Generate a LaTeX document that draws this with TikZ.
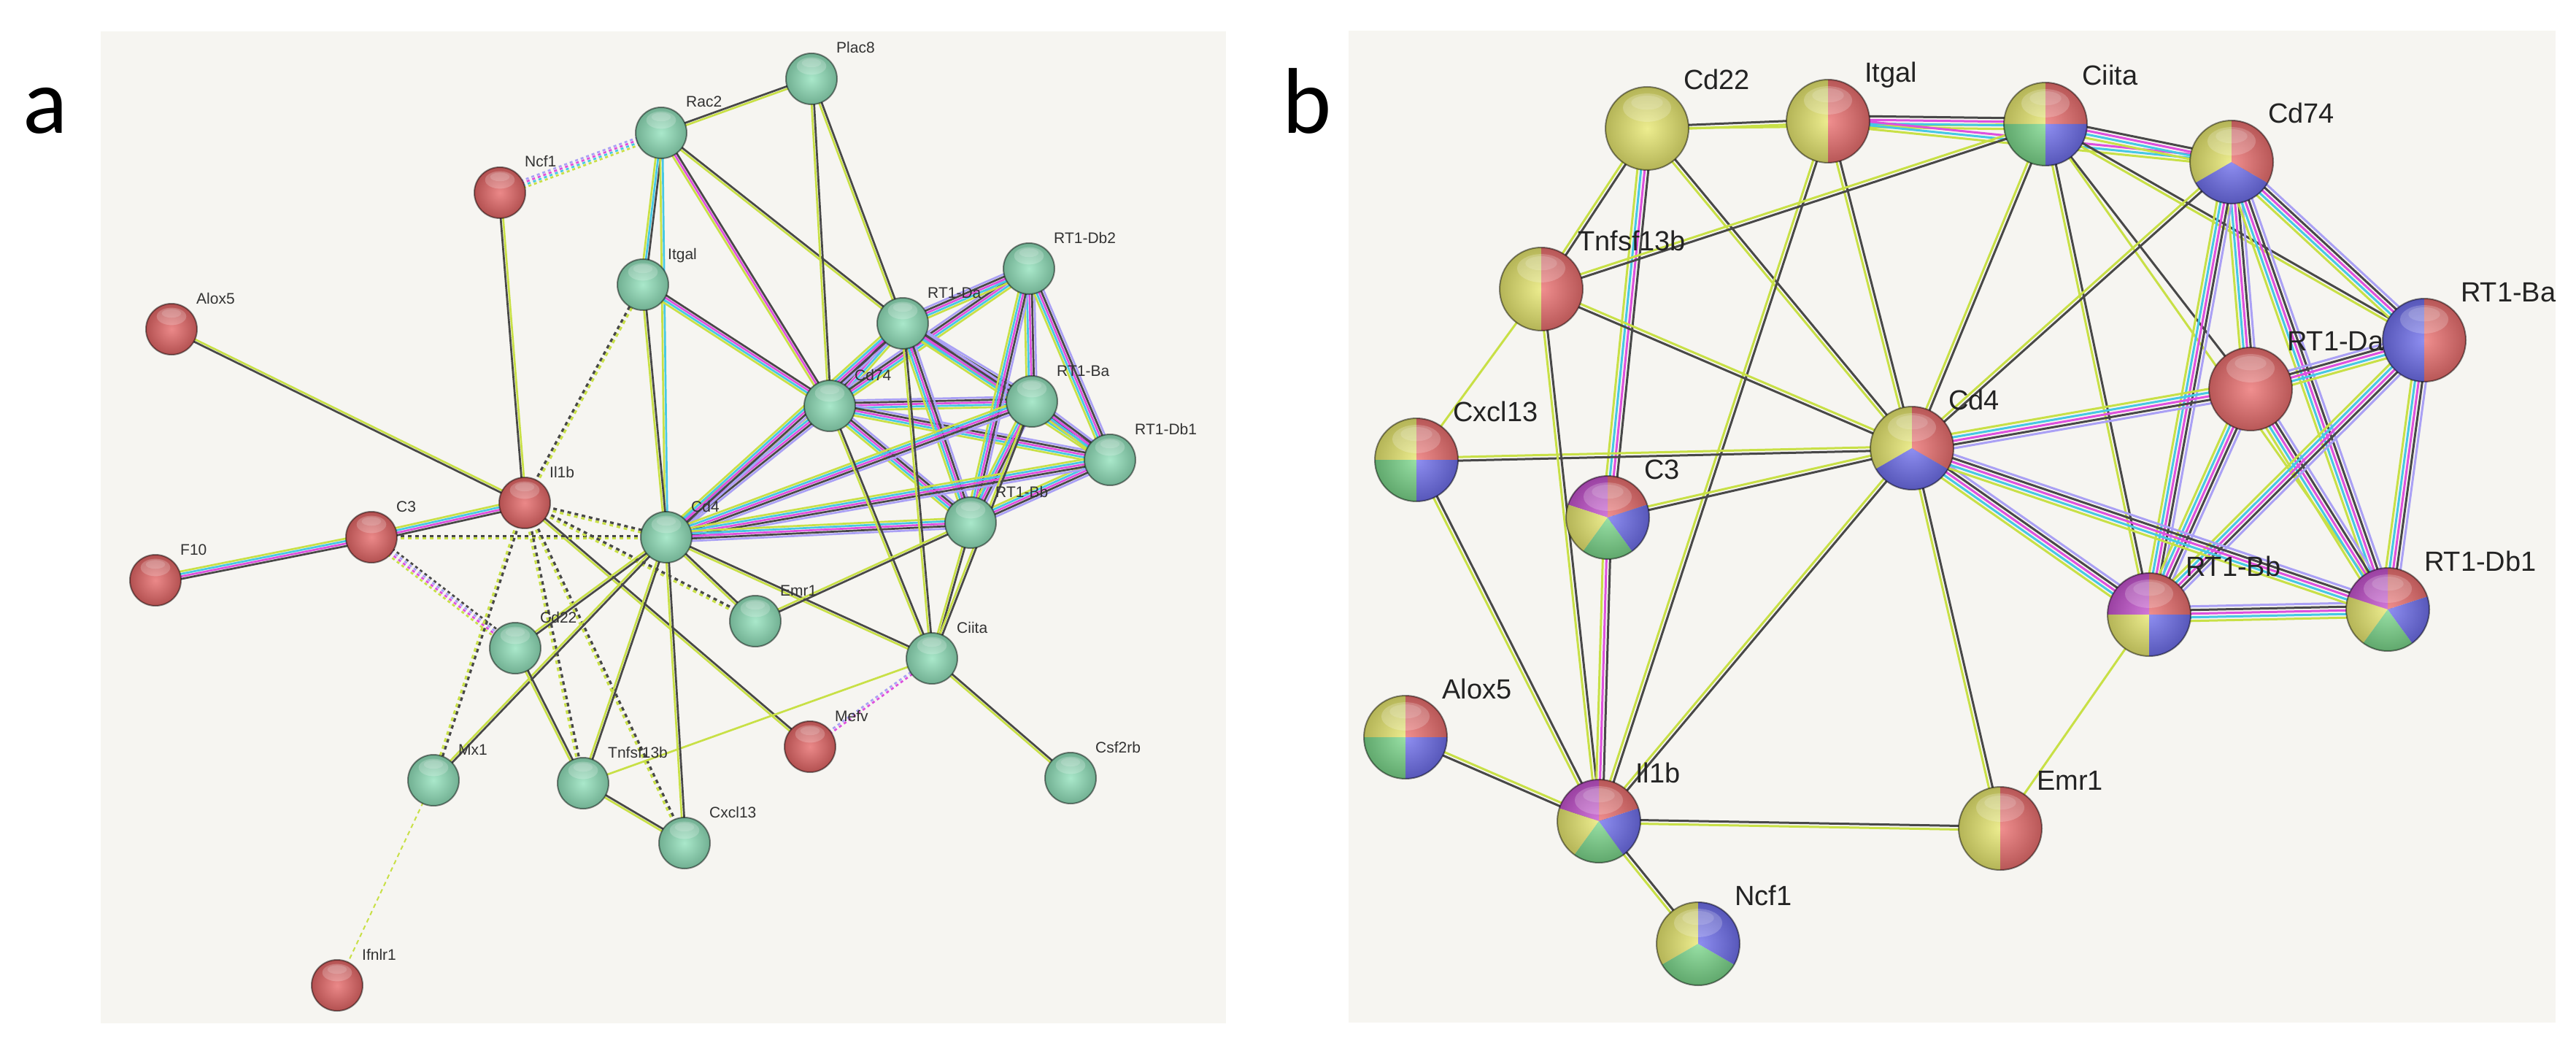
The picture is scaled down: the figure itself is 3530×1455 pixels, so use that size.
\documentclass[tikz,border=0pt]{standalone}
\usepackage{fontspec}
\setmainfont{Liberation Sans}
\newfontfamily\pfont{Carlito}
\usetikzlibrary{calc}
\definecolor{bgp}{RGB}{246,245,241}
\definecolor{ytm}{RGB}{200,224,70}
\definecolor{blk}{RGB}{72,72,72}
\definecolor{mag}{RGB}{222,80,222}
\definecolor{cyn}{RGB}{70,200,228}
\definecolor{lav}{RGB}{170,160,245}
\definecolor{bgreen}{RGB}{146,226,188}
\definecolor{bred}{RGB}{230,104,104}
\definecolor{pyel}{RGB}{232,232,112}
\definecolor{pred}{RGB}{236,112,112}
\definecolor{pgrn}{RGB}{124,216,140}
\definecolor{pblu}{RGB}{112,112,238}
\definecolor{pmag}{RGB}{198,84,208}
\definecolor{lbl}{RGB}{50,50,50}
\def\YK{ytm,blk}
\def\YCMK{ytm,cyn,mag,blk}
\def\FULL{ytm,cyn,mag,blk,lav}
\def\espc{3.4}
\def\ewid{2.7}
\newcommand\edg[4][]{%
  \edef\elist{#4}%
  \foreach \ecol [count=\i] in \elist {\xdef\ecount{\i}}%
  \foreach \ecol [count=\i] in \elist {%
    \pgfmathsetmacro\eoff{(\i-(\ecount+1)/2)*\espc}%
    \draw[color=\ecol, line width=\ewid, #1] ($(#2)!\eoff pt!90:(#3)$) -- ($(#3)!\eoff pt!-90:(#2)$);
  }%
}
\newcommand\gloss[2]{%
  \shade[inner color=white, outer color=black, opacity=0.22] (#1) circle (#2);
  \fill[white, opacity=0.2] ($(#1)+(0,0.5*#2)$) ellipse ({0.58*#2} and {0.34*#2});
  \fill[white, opacity=0.15] ($(#1)+(0,0.62*#2)$) ellipse ({0.38*#2} and {0.17*#2});
  \draw[black, opacity=0.45, line width=2] (#1) circle (#2);
}
\newcommand\aball[2]{\fill[#2] (a-#1) circle (35); \gloss{a-#1}{35}}
\newcommand\alab[2]{\node[lblA] (la-#1) at ($(a-#1)+(34,35)$) {#2};}
\newcommand\pball[2]{%
  \foreach \s/\e/\cc in {#2} {\fill[color=\cc] (b-#1) -- ++(\s:57) arc[start angle=\s, end angle=\e, radius=57] -- cycle;}%
  \gloss{b-#1}{57}}
\newcommand\blab[2]{\node[lblB] (lb-#1) at ($(b-#1)+(50,53)$) {#2};}
\tikzset{
  lblA/.style={anchor=base west, inner sep=0pt, text=lbl, font=\fontsize{21}{24}\selectfont},
  lblB/.style={anchor=base west, inner sep=0pt, text=lbl!70!black, font=\fontsize{38}{42}\selectfont},
  panel/.style={anchor=base, inner sep=0pt, font=\pfont\fontsize{128}{140}\selectfont},
  dashA/.style={dash pattern=on 4pt off 4pt},
  dashB/.style={dash pattern=on 5pt off 5pt, line width=3.2},
  dashC/.style={dash pattern=on 6pt off 5pt, line width=2},
}
\begin{document}
\begin{tikzpicture}[x=1pt,y=1pt]
\useasboundingbox (0,0) rectangle (3530,-1455);
\fill[white] (0,0) rectangle (3530,-1455);
\fill[bgp] (138,-43) rectangle (1680,-1402);
\fill[bgp] (1848,-42) rectangle (3502,-1401);
\node[panel] (pa) at (62,-183) {a};
\node[panel] (pb) at (1791,-183) {b};

% ---------- panel a coordinates
\coordinate (a-Plac8) at (1112,-108);
\coordinate (a-Rac2) at (906,-182);
\coordinate (a-Ncf1) at (685,-264);
\coordinate (a-Itgal) at (881,-390);
\coordinate (a-RT1-Db2) at (1410,-368);
\coordinate (a-RT1-Da) at (1237,-443);
\coordinate (a-Alox5) at (235,-451);
\coordinate (a-Cd74) at (1137,-556);
\coordinate (a-RT1-Ba) at (1414,-550);
\coordinate (a-RT1-Db1) at (1521,-630);
\coordinate (a-Il1b) at (719,-689);
\coordinate (a-C3) at (509,-736);
\coordinate (a-Cd4) at (913,-736);
\coordinate (a-RT1-Bb) at (1330,-716);
\coordinate (a-F10) at (213,-795);
\coordinate (a-Emr1) at (1035,-851);
\coordinate (a-Cd22) at (706,-888);
\coordinate (a-Ciita) at (1277,-902);
\coordinate (a-Mefv) at (1110,-1023);
\coordinate (a-Mx1) at (594,-1069);
\coordinate (a-Tnfsf13b) at (799,-1073);
\coordinate (a-Csf2rb) at (1467,-1066);
\coordinate (a-Cxcl13) at (938,-1155);
\coordinate (a-Ifnlr1) at (462,-1350);

% ---------- panel a edges
\edg{a-Il1b}{a-Alox5}{\YK}
\edg{a-Il1b}{a-Ncf1}{\YK}
\edg{a-Il1b}{a-C3}{\YCMK}
\edg{a-C3}{a-F10}{\YCMK}
\edg{a-Il1b}{a-Mefv}{\YK}
\edg[dashA]{a-Ncf1}{a-Rac2}{ytm,cyn,mag,lav}
\edg[dashA]{a-C3}{a-Cd22}{ytm,mag,lav,blk}
\edg[dashA]{a-Mefv}{a-Ciita}{mag,lav}
\edg[dashB]{a-Il1b}{a-Itgal}{\YK}
\edg[dashB]{a-Il1b}{a-Cd4}{\YK}
\edg[dashB]{a-C3}{a-Cd4}{\YK}
\edg[dashB]{a-Il1b}{a-Emr1}{\YK}
\edg[dashB]{a-Il1b}{a-Tnfsf13b}{\YK}
\edg[dashB]{a-Il1b}{a-Cxcl13}{\YK}
\edg[dashB]{a-Il1b}{a-Mx1}{\YK}
\edg[dashC]{a-Mx1}{a-Ifnlr1}{ytm}
\edg{a-Rac2}{a-Plac8}{\YK}
\edg{a-Rac2}{a-Itgal}{ytm,cyn,blk}
\edg{a-Rac2}{a-Cd4}{ytm,cyn}
\edg{a-Itgal}{a-Cd4}{\YK}
\edg{a-Rac2}{a-Cd74}{ytm,mag,blk}
\edg{a-Rac2}{a-RT1-Da}{\YK}
\edg{a-Plac8}{a-Cd74}{\YK}
\edg{a-Plac8}{a-RT1-Da}{\YK}
\edg{a-Itgal}{a-Cd74}{\YCMK}
\edg{a-Cd74}{a-RT1-Da}{\FULL}
\edg{a-Cd74}{a-RT1-Db2}{\FULL}
\edg{a-Cd74}{a-RT1-Ba}{\FULL}
\edg{a-Cd74}{a-RT1-Db1}{\FULL}
\edg{a-Cd74}{a-RT1-Bb}{\FULL}
\edg{a-Cd74}{a-Cd4}{\FULL}
\edg{a-RT1-Da}{a-RT1-Db2}{\FULL}
\edg{a-RT1-Da}{a-RT1-Ba}{\FULL}
\edg{a-RT1-Da}{a-RT1-Db1}{\FULL}
\edg{a-RT1-Da}{a-RT1-Bb}{\FULL}
\edg{a-RT1-Da}{a-Cd4}{\FULL}
\edg{a-RT1-Db2}{a-RT1-Ba}{\FULL}
\edg{a-RT1-Db2}{a-RT1-Db1}{\FULL}
\edg{a-RT1-Db2}{a-RT1-Bb}{\FULL}
\edg{a-RT1-Ba}{a-RT1-Db1}{\FULL}
\edg{a-RT1-Ba}{a-RT1-Bb}{\FULL}
\edg{a-RT1-Ba}{a-Cd4}{\FULL}
\edg{a-RT1-Db1}{a-RT1-Bb}{\FULL}
\edg{a-RT1-Db1}{a-Cd4}{\FULL}
\edg{a-RT1-Bb}{a-Cd4}{\FULL}
\edg{a-Cd74}{a-Ciita}{\YK}
\edg{a-RT1-Da}{a-Ciita}{\YK}
\edg{a-RT1-Bb}{a-Ciita}{\YK}
\edg{a-RT1-Ba}{a-Ciita}{\YK}
\edg{a-Cd4}{a-Ciita}{\YK}
\edg{a-Tnfsf13b}{a-Ciita}{ytm}
\edg{a-Ciita}{a-Csf2rb}{\YK}
\edg{a-RT1-Bb}{a-Emr1}{\YK}
\edg{a-Cd4}{a-Emr1}{\YK}
\edg{a-Cd4}{a-Cd22}{\YK}
\edg{a-Cd4}{a-Mx1}{\YK}
\edg{a-Cd4}{a-Tnfsf13b}{\YK}
\edg{a-Cd4}{a-Cxcl13}{\YK}
\edg{a-Cd22}{a-Tnfsf13b}{\YK}
\edg{a-Tnfsf13b}{a-Cxcl13}{\YK}

% ---------- panel a balls and labels
\foreach \n in {Plac8,Rac2,Itgal,RT1-Db2,RT1-Da,Cd74,RT1-Ba,RT1-Db1,Cd4,RT1-Bb,Emr1,Cd22,Ciita,Mx1,Tnfsf13b,Csf2rb,Cxcl13}{\aball{\n}{bgreen}}
\foreach \n in {Ncf1,Alox5,Il1b,C3,F10,Mefv,Ifnlr1}{\aball{\n}{bred}}
\alab{Plac8}{Plac8}
\alab{Rac2}{Rac2}
\alab{Ncf1}{Ncf1}
\alab{Itgal}{Itgal}
\alab{RT1-Db2}{RT1-Db2}
\alab{RT1-Da}{RT1-Da}
\alab{Alox5}{Alox5}
\alab{Cd74}{Cd74}
\alab{RT1-Ba}{RT1-Ba}
\alab{RT1-Db1}{RT1-Db1}
\alab{Il1b}{Il1b}
\alab{C3}{C3}
\alab{Cd4}{Cd4}
\alab{RT1-Bb}{RT1-Bb}
\alab{F10}{F10}
\alab{Emr1}{Emr1}
\alab{Cd22}{Cd22}
\alab{Ciita}{Ciita}
\alab{Mefv}{Mefv}
\alab{Mx1}{Mx1}
\alab{Tnfsf13b}{Tnfsf13b}
\alab{Csf2rb}{Csf2rb}
\alab{Cxcl13}{Cxcl13}
\alab{Ifnlr1}{Ifnlr1}

% ---------- panel b coordinates
\coordinate (b-Cd22) at (2257,-176);
\coordinate (b-Itgal) at (2505,-166);
\coordinate (b-Ciita) at (2803,-170);
\coordinate (b-Cd74) at (3058,-222);
\coordinate (b-RT1-Ba) at (3322,-466);
\coordinate (b-RT1-Da) at (3084,-533);
\coordinate (b-Tnfsf13b) at (2112,-396);
\coordinate (b-Cxcl13) at (1941,-630);
\coordinate (b-Cd4) at (2620,-614);
\coordinate (b-C3) at (2203,-709);
\coordinate (b-RT1-Bb) at (2945,-842);
\coordinate (b-RT1-Db1) at (3272,-835);
\coordinate (b-Alox5) at (1926,-1010);
\coordinate (b-Il1b) at (2191,-1125);
\coordinate (b-Emr1) at (2741,-1135);
\coordinate (b-Ncf1) at (2327,-1293);

% ---------- panel b edges
\def\espc{5}
\def\ewid{3}
\edg{b-Cd22}{b-Itgal}{\YK}
\edg{b-Cd22}{b-Ciita}{ytm}
\edg{b-Cd22}{b-Tnfsf13b}{\YK}
\edg{b-Cd22}{b-C3}{\YCMK}
\edg{b-Cd22}{b-Cd4}{\YK}
\edg{b-Itgal}{b-Ciita}{\YCMK}
\edg{b-Itgal}{b-Cd74}{ytm,cyn,mag}
\edg{b-Itgal}{b-Cd4}{\YK}
\edg{b-Itgal}{b-Il1b}{\YK}
\edg{b-Ciita}{b-Cd74}{\YCMK}
\edg{b-Ciita}{b-Tnfsf13b}{\YK}
\edg{b-Ciita}{b-Cd4}{\YK}
\edg{b-Ciita}{b-RT1-Bb}{\YK}
\edg{b-Ciita}{b-RT1-Da}{blk}
\edg{b-Ciita}{b-RT1-Ba}{\YK}
\edg{b-Ciita}{b-RT1-Db1}{ytm}
\edg{b-Cd74}{b-Cd4}{\YK}
\edg{b-Cd74}{b-RT1-Ba}{\FULL}
\edg{b-Cd74}{b-RT1-Da}{\FULL}
\edg{b-Cd74}{b-RT1-Bb}{\FULL}
\edg{b-Cd74}{b-RT1-Db1}{\FULL}
\edg{b-RT1-Da}{b-RT1-Ba}{\FULL}
\edg{b-RT1-Da}{b-RT1-Bb}{\FULL}
\edg{b-RT1-Da}{b-RT1-Db1}{\FULL}
\edg{b-RT1-Da}{b-Cd4}{\FULL}
\edg{b-RT1-Ba}{b-RT1-Bb}{\FULL}
\edg{b-RT1-Ba}{b-RT1-Db1}{\FULL}
\edg{b-RT1-Bb}{b-RT1-Db1}{\FULL}
\edg{b-Cd4}{b-RT1-Bb}{\FULL}
\edg{b-Cd4}{b-RT1-Db1}{\FULL}
\edg{b-RT1-Bb}{b-Emr1}{ytm}
\edg{b-Cd4}{b-Cxcl13}{\YK}
\edg{b-Cd4}{b-C3}{\YK}
\edg{b-Cd4}{b-Tnfsf13b}{\YK}
\edg{b-Cd4}{b-Il1b}{\YK}
\edg{b-Cd4}{b-Emr1}{\YK}
\edg{b-Tnfsf13b}{b-Cxcl13}{ytm}
\edg{b-Tnfsf13b}{b-Il1b}{\YK}
\edg{b-Cxcl13}{b-Il1b}{\YK}
\edg{b-C3}{b-Il1b}{ytm,mag,blk}
\edg{b-Il1b}{b-Alox5}{\YK}
\edg{b-Il1b}{b-Ncf1}{\YK}
\edg{b-Il1b}{b-Emr1}{\YK}

% ---------- panel b balls and labels
\pball{Cd22}{0/360/pyel}
\pball{Itgal}{90/270/pyel, -90/90/pred}
\pball{Ciita}{90/180/pyel, 0/90/pred, 180/270/pgrn, 270/360/pblu}
\pball{Cd74}{90/210/pyel, 210/330/pblu, -30/90/pred}
\pball{RT1-Ba}{90/270/pblu, -90/90/pred}
\pball{RT1-Da}{0/360/pred}
\pball{Tnfsf13b}{90/270/pyel, -90/90/pred}
\pball{Cxcl13}{90/180/pyel, 0/90/pred, 180/270/pgrn, 270/360/pblu}
\pball{Cd4}{90/210/pyel, 210/330/pblu, -30/90/pred}
\pball{C3}{18/90/pred, 90/162/pmag, 162/234/pyel, 234/306/pgrn, 306/378/pblu}
\pball{RT1-Bb}{90/180/pmag, 0/90/pred, 180/270/pyel, 270/360/pblu}
\pball{RT1-Db1}{18/90/pred, 90/162/pmag, 162/234/pyel, 234/306/pgrn, 306/378/pblu}
\pball{Alox5}{90/180/pyel, 0/90/pred, 180/270/pgrn, 270/360/pblu}
\pball{Il1b}{18/90/pred, 90/162/pmag, 162/234/pyel, 234/306/pgrn, 306/378/pblu}
\pball{Emr1}{90/270/pyel, -90/90/pred}
\pball{Ncf1}{90/210/pyel, 210/330/pgrn, -30/90/pblu}
\blab{Cd22}{Cd22}
\blab{Itgal}{Itgal}
\blab{Ciita}{Ciita}
\blab{Cd74}{Cd74}
\blab{RT1-Ba}{RT1-Ba}
\blab{RT1-Da}{RT1-Da}
\blab{Tnfsf13b}{Tnfsf13b}
\blab{Cxcl13}{Cxcl13}
\blab{Cd4}{Cd4}
\blab{C3}{C3}
\blab{RT1-Bb}{RT1-Bb}
\blab{RT1-Db1}{RT1-Db1}
\blab{Alox5}{Alox5}
\blab{Il1b}{Il1b}
\blab{Emr1}{Emr1}
\blab{Ncf1}{Ncf1}
\end{tikzpicture}
\end{document}
